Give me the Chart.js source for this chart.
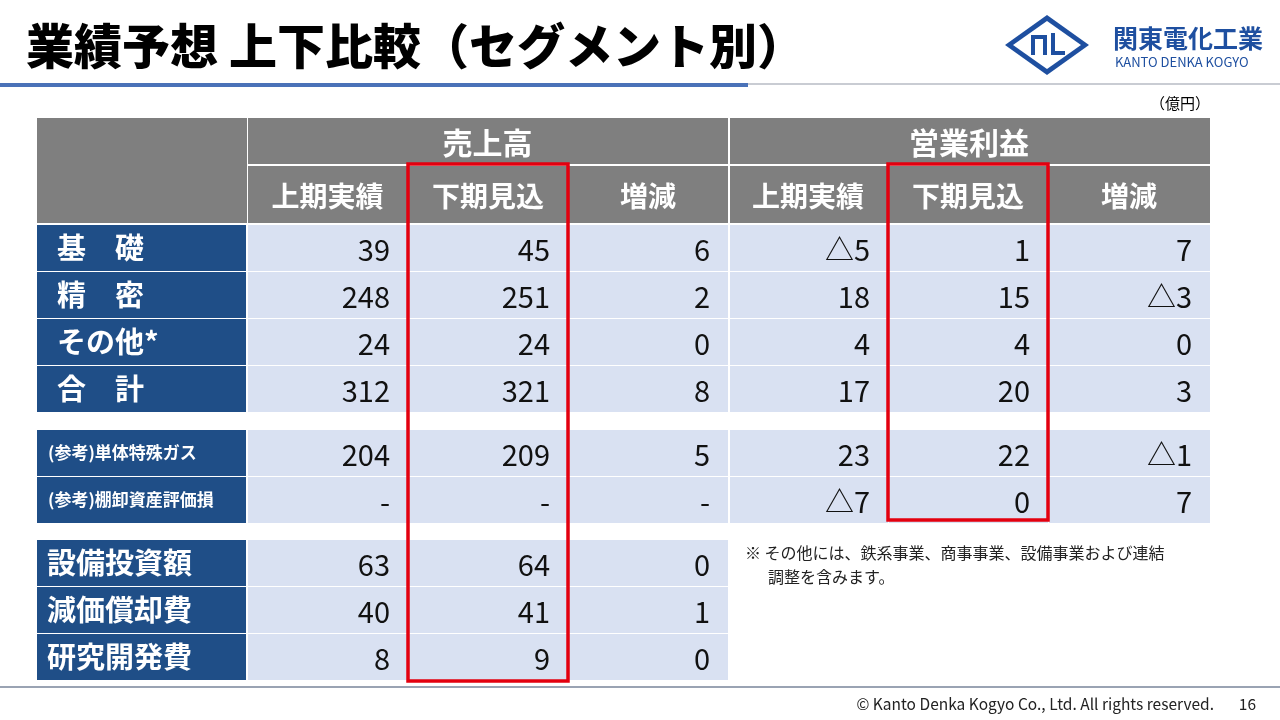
<!DOCTYPE html>
<html><head><meta charset="utf-8">
<script src="https://cdn.jsdelivr.net/npm/chart.js@4"></script>
<style>html,body{margin:0;padding:0;background:#fff}#w{width:1280px;height:720px}</style>
</head><body><div id="w"><canvas id="c" width="1280" height="720"></canvas></div>
<script>
const categories = ['基　礎','精　密','その他*','合　計','(参考)単体特殊ガス','(参考)棚卸資産評価損','設備投資額','減価償却費','研究開発費'];
const groupHeaders = ['売上高','営業利益'];
const colHeaders = ['上期実績','下期見込','増減','上期実績','下期見込','増減'];
const sales1 = ['39','248','24','312','204','-','63','40','8'];
const sales2 = ['45','251','24','321','209','-','64','41','9'];
const salesDiff = ['6','2','0','8','5','-','0','1','0'];
const op1 = ['△5','18','4','17','23','△7'];
const op2 = ['1','15','4','20','22','0'];
const opDiff = ['7','△3','0','3','△1','7'];

// layout (pixel units on linear scales)
const colEdges = [37,247,408,568,728,888,1048,1210];
const rowTops = [225,272,319,366,430,477,540,587,634];
const rowH = 46;
const F = '"Noto Sans CJK JP","Noto Sans",sans-serif';

const tablePlugin = {
  id:'table',
  afterDraw(chart){
    const c = chart.ctx, X = v=>chart.scales.x.getPixelForValue(v), Y = v=>chart.scales.y.getPixelForValue(v);
    const rect=(x0,y0,x1,y1,col)=>{c.fillStyle=col;c.fillRect(X(x0),Y(y0),X(x1)-X(x0),Y(y1)-Y(y0));};
    c.save();
    c.fillStyle='#000';c.font='900 48px '+F;c.textBaseline='middle';c.textAlign='left';
    c.fillText('業績予想 上下比較（セグメント別）',X(26),Y(46));
    rect(0,83,1280,85,'#c9ccd3'); rect(0,83,748,87,'#4a72b8');
    const lx=X(1047),ly=Y(45);
    c.fillStyle='#1e4fa0';c.beginPath();c.moveTo(lx-42,ly);c.lineTo(lx,ly-30);c.lineTo(lx+42,ly);c.lineTo(lx,ly+30);c.closePath();c.fill();
    c.fillStyle='#fff';c.beginPath();c.moveTo(lx-34,ly);c.lineTo(lx,ly-24);c.lineTo(lx+34,ly);c.lineTo(lx,ly+24);c.closePath();c.fill();
    c.strokeStyle='#1e4fa0';c.lineWidth=4;c.beginPath();
    c.moveTo(lx-14,ly+10);c.lineTo(lx-14,ly-8);c.lineTo(lx-2,ly-8);c.lineTo(lx-2,ly+10);
    c.moveTo(lx+6,ly-12);c.lineTo(lx+6,ly+8);c.lineTo(lx+18,ly+8);c.stroke();
    c.fillStyle='#1e4fa0';c.font='bold 25px '+F;c.fillText('関東電化工業',X(1113),Y(38));
    c.font='13px '+F;c.fillText('KANTO DENKA KOGYO',X(1115),Y(62));
    c.fillStyle='#000';c.font='15px '+F;c.textAlign='right';c.fillText('（億円）',X(1210),Y(103));
    const grey='#7f7f7f', light='#d9e1f2', dark='#1f4e87';
    rect(37,118,1210,223,grey);
    rect(247,164,1210,166,'#fff');rect(728,118,730,223,'#fff');rect(247,118,248,223,'#fff');
    for(let i=2;i<7;i++){ if(i!==4) rect(colEdges[i],165,colEdges[i]+1,223,'#fff'); }
    c.fillStyle='#fff';c.textAlign='center';c.font='bold 30px '+F;
    c.fillText(groupHeaders[0],X((colEdges[1]+colEdges[4])/2),Y(143));
    c.fillText(groupHeaders[1],X((colEdges[4]+colEdges[7])/2),Y(143));
    c.font='bold 28px '+F;
    colHeaders.forEach((h,i)=>c.fillText(h,X((colEdges[i+1]+colEdges[i+2])/2),Y(196)));
    const vals=[sales1,sales2,salesDiff,op1,op2,opDiff];
    categories.forEach((cat,r)=>{
      const t=rowTops[r],b=t+rowH;
      rect(37,t,246,b,dark);
      const ncol = r<6?6:3;
      for(let k=0;k<ncol;k++){
        rect(colEdges[k+1]+(k===3?2:1),t,colEdges[k+2],b,light);
        c.fillStyle='#111';c.font='29px '+F;c.textAlign='right';
        c.fillText(vals[k][r],X(colEdges[k+2]-18),Y(t+rowH/2+2));
      }
      c.fillStyle='#fff';c.textAlign='left';
      if(cat.startsWith('(参考)')){c.font='bold 17px '+F;c.fillText(cat,X(48),Y(t+rowH/2));}
      else {c.font='bold 29px '+F;c.fillText(cat,X(r<4?57:47),Y(t+rowH/2));}
    });
    c.strokeStyle='#e3000f';c.lineWidth=3.5;
    c.strokeRect(X(408),Y(164),X(568)-X(408),Y(681)-Y(164));
    c.strokeRect(X(888),Y(164),X(1048)-X(888),Y(520)-Y(164));
    c.fillStyle='#222';c.font='16px '+F;c.textAlign='left';
    c.fillText('※ その他には、鉄系事業、商事事業、設備事業および連結',X(745),Y(553));
    c.fillText('調整を含みます。',X(768),Y(577));
    rect(0,686,1280,688,'#9aa3b3');
    c.fillStyle='#222';c.font='15.5px '+F;c.textAlign='right';
    c.fillText('© Kanto Denka Kogyo Co., Ltd. All rights reserved.',X(1214),Y(704));
    c.fillText('16',X(1256),Y(704));
    c.restore();
  }
};

new Chart(document.getElementById('c'),{
  type:'scatter',
  data:{datasets:[{data:[],pointRadius:0}]},
  options:{responsive:false,animation:false,layout:{padding:0},
    plugins:{legend:{display:false},tooltip:{enabled:false}},
    scales:{x:{type:'linear',min:0,max:1280,display:false},y:{type:'linear',min:0,max:720,reverse:true,display:false}}},
  plugins:[tablePlugin]
});
</script></body></html>
